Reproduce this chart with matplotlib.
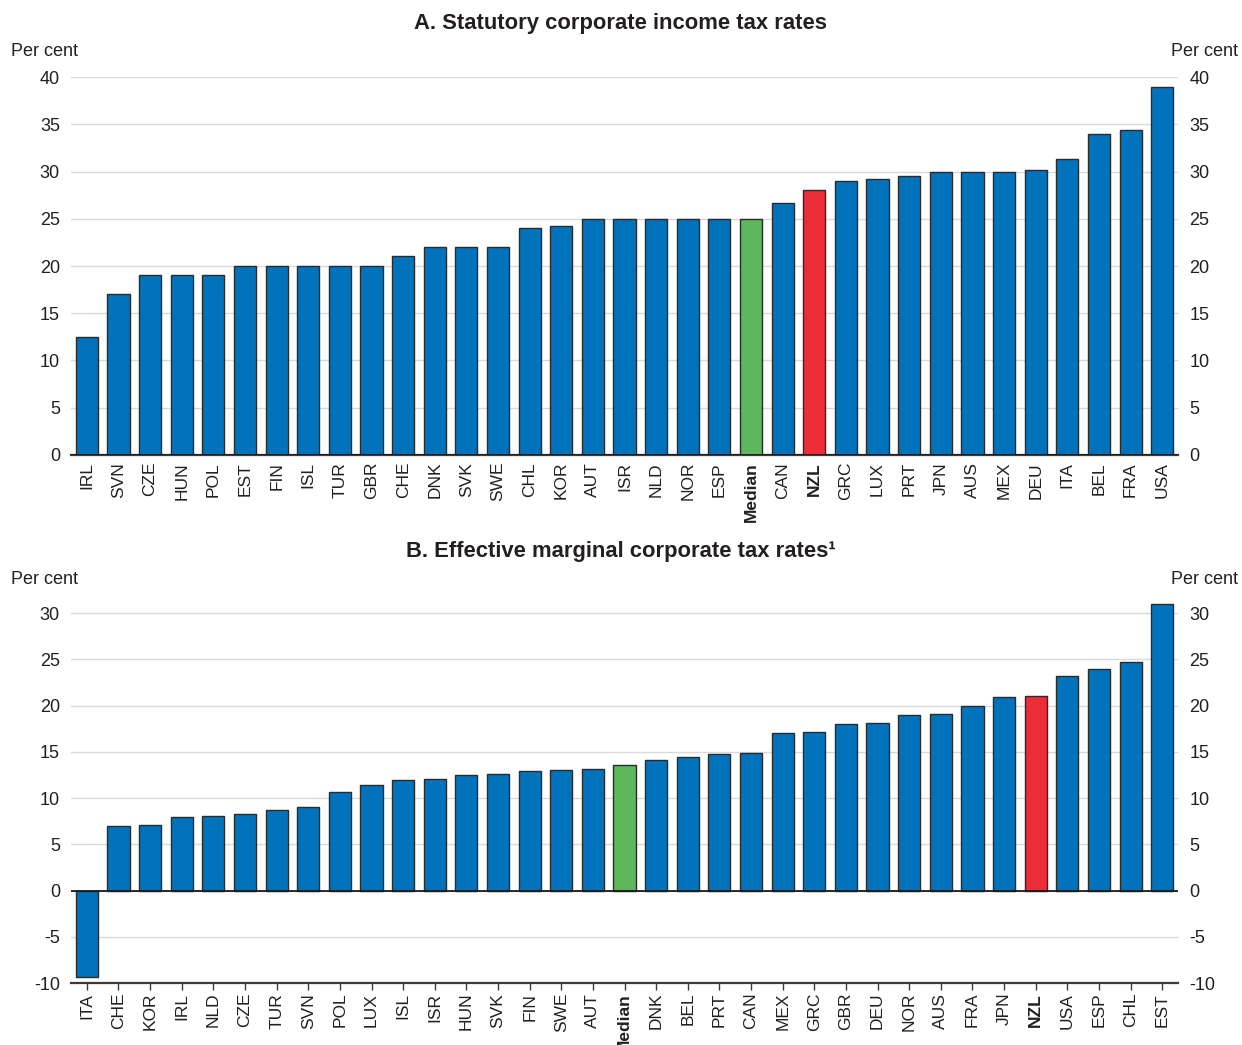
import numpy as np
import matplotlib
matplotlib.use('Agg')
import matplotlib.pyplot as plt

plt.rcParams['font.family'] = ['Liberation Sans', 'DejaVu Sans']
plt.rcParams['axes.unicode_minus'] = False

countries_a = ['IRL', 'SVN', 'CZE', 'HUN', 'POL', 'EST', 'FIN', 'ISL', 'TUR', 'GBR', 'CHE',
               'DNK', 'SVK', 'SWE', 'CHL', 'KOR', 'AUT', 'ISR', 'NLD', 'NOR', 'ESP', 'Median',
               'CAN', 'NZL', 'GRC', 'LUX', 'PRT', 'JPN', 'AUS', 'MEX', 'DEU', 'ITA', 'BEL',
               'FRA', 'USA']
rates_a = [12.5, 17.0, 19.0, 19.0, 19.0, 20.0, 20.0, 20.0, 20.0, 20.0, 21.1,
           22.0, 22.0, 22.0, 24.0, 24.2, 25.0, 25.0, 25.0, 25.0, 25.0, 25.0,
           26.7, 28.0, 29.0, 29.2, 29.5, 30.0, 30.0, 30.0, 30.2, 31.3, 34.0,
           34.4, 38.9]

countries_b = ['ITA', 'CHE', 'KOR', 'IRL', 'NLD', 'CZE', 'TUR', 'SVN', 'POL', 'LUX', 'ISL',
               'ISR', 'HUN', 'SVK', 'FIN', 'SWE', 'AUT', 'Median', 'DNK', 'BEL', 'PRT', 'CAN',
               'MEX', 'GRC', 'GBR', 'DEU', 'NOR', 'AUS', 'FRA', 'JPN', 'NZL', 'USA', 'ESP',
               'CHL', 'EST']
rates_b = [-9.4, 7.0, 7.1, 8.0, 8.1, 8.3, 8.7, 9.0, 10.7, 11.4, 12.0,
           12.1, 12.5, 12.6, 12.9, 13.0, 13.1, 13.6, 14.1, 14.4, 14.8, 14.9,
           17.1, 17.2, 18.0, 18.1, 19.0, 19.1, 20.0, 20.9, 21.0, 23.2, 24.0,
           24.7, 31.0]

yticks_a = [0, 5, 10, 15, 20, 25, 30, 35, 40]
yticks_b = [-10, -5, 0, 5, 10, 15, 20, 25, 30]

BLUE = '#0173BC'
GREEN = '#5CB85A'
RED = '#EC2D37'
TXT = '#231F20'


def bar_colors(cats):
    out = []
    for c in cats:
        if c == 'Median':
            out.append(GREEN)
        elif c == 'NZL':
            out.append(RED)
        else:
            out.append(BLUE)
    return out


def draw_panel(ax, cats, vals, yticks, ylim, ticks_below):
    x = np.arange(len(cats))
    ax.set_axisbelow(True)
    ax.bar(x, vals, width=0.7, color=bar_colors(cats), edgecolor='#2a2a2a', linewidth=1.0, zorder=3)
    ax.set_xlim(-0.5, len(cats) - 0.5)
    ax.set_ylim(*ylim)
    ax.set_yticks(yticks)
    ax.grid(axis='y', color='#d9d9d9', linewidth=1.0)
    for s in ['top', 'left', 'right']:
        ax.spines[s].set_visible(False)
    ax.spines['bottom'].set_color('#3a3a3a')
    ax.spines['bottom'].set_linewidth(1.6)
    ax.axhline(0, color='#1a1a1a', linewidth=1.3, zorder=4)
    ax.tick_params(axis='y', length=0, labelsize=13, colors=TXT, pad=8,
                   labelleft=True, labelright=True)
    ax.set_xticks(x)
    ax.set_xticklabels(cats, rotation=90, fontsize=12.5, color=TXT)
    for lab in ax.get_xticklabels():
        if lab.get_text() in ('Median', 'NZL'):
            lab.set_fontweight('bold')
    if ticks_below:
        ax.tick_params(axis='x', length=5, width=1, color='#3a3a3a', pad=2, direction='out')
    else:
        ax.tick_params(axis='x', length=0, pad=5)


fig = plt.figure(figsize=(12.42, 10.45), dpi=100)
ax_a = fig.add_axes([0.0572, 0.5646, 0.8913, 0.3617])
ax_b = fig.add_axes([0.0572, 0.0593, 0.8913, 0.3680])

draw_panel(ax_a, countries_a, rates_a, yticks_a, (0, 40), False)
draw_panel(ax_b, countries_b, rates_b, yticks_b, (-10, 31.6), True)

for ypix in (51, 580):
    fig.text(11 / 1242, 1 - ypix / 1045, 'Per cent', ha='left', va='center', fontsize=13, color=TXT)
    fig.text(1238 / 1242, 1 - ypix / 1045, 'Per cent', ha='right', va='center', fontsize=13, color=TXT)

fig.text(0.4995, 1 - 24 / 1045, 'A. Statutory corporate income tax rates', ha='center', va='center',
         fontsize=15.8, fontweight='bold', color=TXT)
fig.text(0.4995, 1 - 551 / 1045, 'B. Effective marginal corporate tax rates\u00b9', ha='center', va='center',
         fontsize=15.8, fontweight='bold', color=TXT)

fig.savefig('out.png', dpi=100)
